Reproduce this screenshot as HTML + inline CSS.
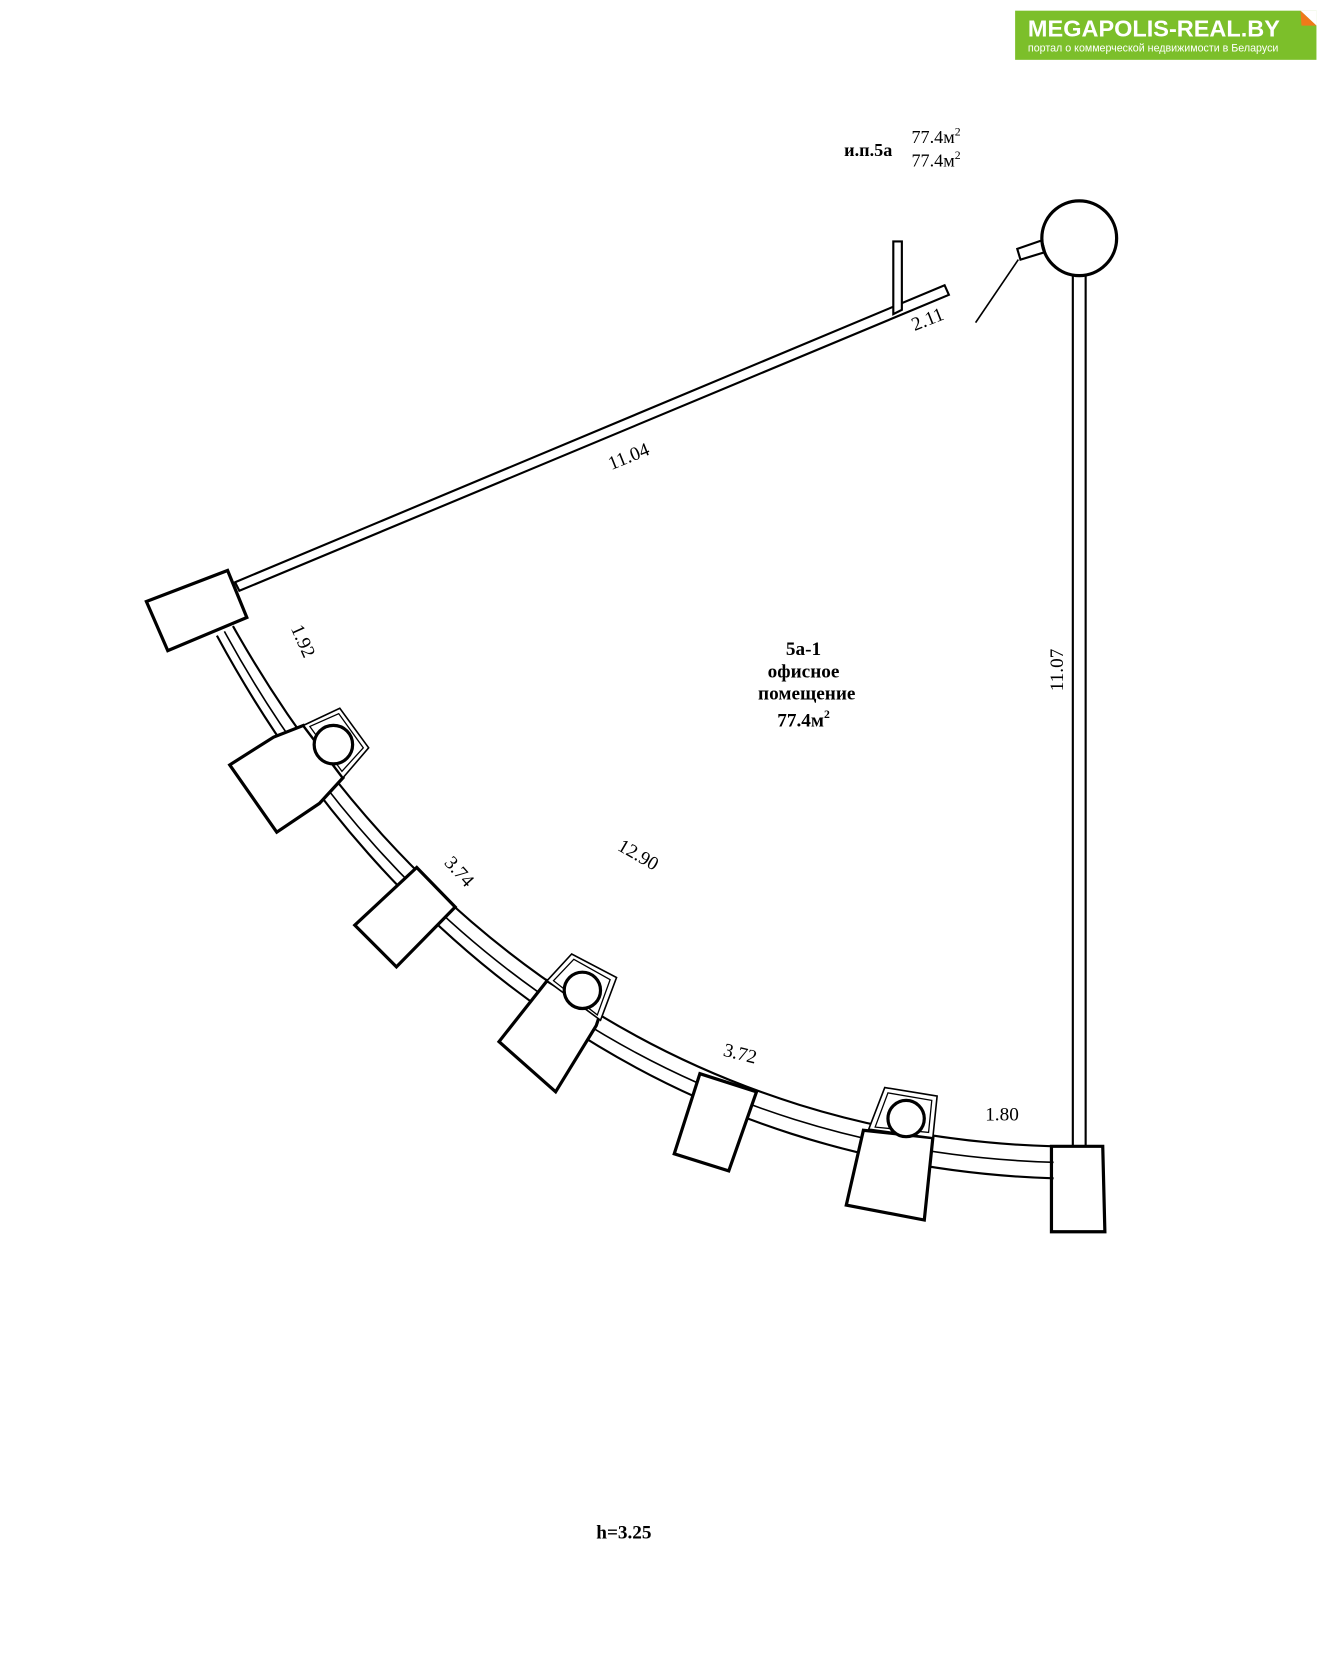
<!DOCTYPE html>
<html><head><meta charset="utf-8"><style>
html,body{margin:0;padding:0;background:#fff;}
svg{display:block;}
text{font-family:"Liberation Serif",serif;fill:#000;}
</style></head><body>
<svg width="1325" height="1673" viewBox="0 0 1240 1566" preserveAspectRatio="none" xmlns="http://www.w3.org/2000/svg">
<rect width="1240" height="1566" fill="#fff"/>
<!-- logo -->
<rect x="950" y="10" width="282" height="46" fill="#7cbf2a"/>
<polygon points="1217,10 1232,24 1232,10" fill="#fff"/>
<polygon points="1217,10 1232,24 1218,24" fill="#f07a1a"/>
<text x="962" y="34" style="font-family:'Liberation Sans',sans-serif;font-weight:bold;font-size:22px;fill:#fff">MEGAPOLIS-REAL.BY</text>
<text x="962" y="48" style="font-family:'Liberation Sans',sans-serif;font-size:10px;fill:#fff">портал о коммерческой недвижимости в Беларуси</text>

<!-- header -->
<text x="790" y="146" font-size="17" font-weight="bold">и.п.5а</text>
<text x="853" y="134" font-size="17">77.4м<tspan font-size="11" dy="-7">2</tspan></text>
<text x="853" y="156" font-size="17">77.4м<tspan font-size="11" dy="-7">2</tspan></text>

<g fill="none" stroke="#000">
<!-- column top right -->
<circle cx="1010" cy="223" r="35" stroke-width="3"/>
<polygon points="952,233 975,225 978,236 955,243" stroke-width="2"/>
<line x1="953" y1="243" x2="913" y2="302" stroke-width="1.5"/>
<!-- right wall -->
<line x1="1004" y1="258" x2="1004" y2="1073" stroke-width="2"/>
<line x1="1016" y1="258" x2="1016" y2="1073" stroke-width="2"/>
<polygon points="984,1073 1032,1073 1034,1153 984,1153" stroke-width="3"/>
<!-- top wall -->
<polygon points="220,545 884,267 888,276 224,553" stroke-width="2" fill="#fff"/>
<polygon points="836,226 844,226 844,290 836,294" stroke-width="2" fill="#fff"/>
<!-- left pier -->
<polygon points="137,563 213,534 231,578 157,609" stroke-width="3" fill="#fff"/>
<!-- curved wall -->
<path d="M203 595 C365 895 640 1092 986 1103" stroke-width="2"/>
<path d="M210 591 C372 888 645 1078 986 1088" stroke-width="1.5"/>
<path d="M218 586 C382 878 652 1064 986 1073" stroke-width="2"/>
</g>
<g stroke="#000" stroke-width="3" fill="#fff">
<!-- pier 1 -->
<polygon points="215,716 259,779 299,752 321,728 284,679 256,690"/>
<polygon points="284,679 318,663 345,700 321,728" stroke-width="1.5"/>
<polygon points="290,680 317,668 340,700 320,722" stroke-width="1.2" fill="none"/>
<circle cx="312" cy="697" r="18"/>
<!-- rect 2 -->
<polygon points="332,866 371,905 426,849 390,812"/>
<!-- pier 3 -->
<polygon points="467,975 520,1022 558,960 562,948 512,918"/>
<polygon points="512,918 535,893 577,915 562,955" stroke-width="1.5"/>
<polygon points="518,918 537,898 571,917 559,950" stroke-width="1.2" fill="none"/>
<circle cx="545" cy="927" r="17"/>
<!-- rect 4 -->
<polygon points="655,1005 708,1022 682,1096 631,1080"/>
<!-- pier 5 -->
<polygon points="808,1058 792,1128 865,1142 873,1065"/>
<polygon points="813,1057 828,1018 877,1026 873,1065" stroke-width="1.5"/>
<polygon points="819,1055 831,1023 872,1030 869,1060" stroke-width="1.2" fill="none"/>
<circle cx="848" cy="1047" r="17"/>
</g>

<!-- dimension labels -->
<text font-size="18" transform="translate(572,440) rotate(-22)">11.04</text>
<text font-size="18" transform="translate(856,310) rotate(-22)">2.11</text>
<text font-size="18" transform="translate(272,588) rotate(66)">1.92</text>
<text font-size="18" transform="translate(415,808) rotate(48)">3.74</text>
<text font-size="18" transform="translate(577,795) rotate(30)">12.90</text>
<text font-size="18" transform="translate(676,988) rotate(14)">3.72</text>
<text font-size="18" x="922" y="1049">1.80</text>
<text font-size="18" transform="translate(995,647) rotate(-90)">11.07</text>

<g font-size="18" font-weight="bold" text-anchor="middle">
<text x="752" y="613">5а-1</text>
<text x="752" y="605" dy="0" visibility="hidden">.</text>
<text x="752" y="634">офисное</text>
<text x="755" y="655">помещение</text>
<text x="752" y="680">77.4м<tspan font-size="11" dy="-8">2</tspan></text>
</g>
<text x="558" y="1440" font-size="18" font-weight="bold">h=3.25</text>
</svg>
</body></html>
